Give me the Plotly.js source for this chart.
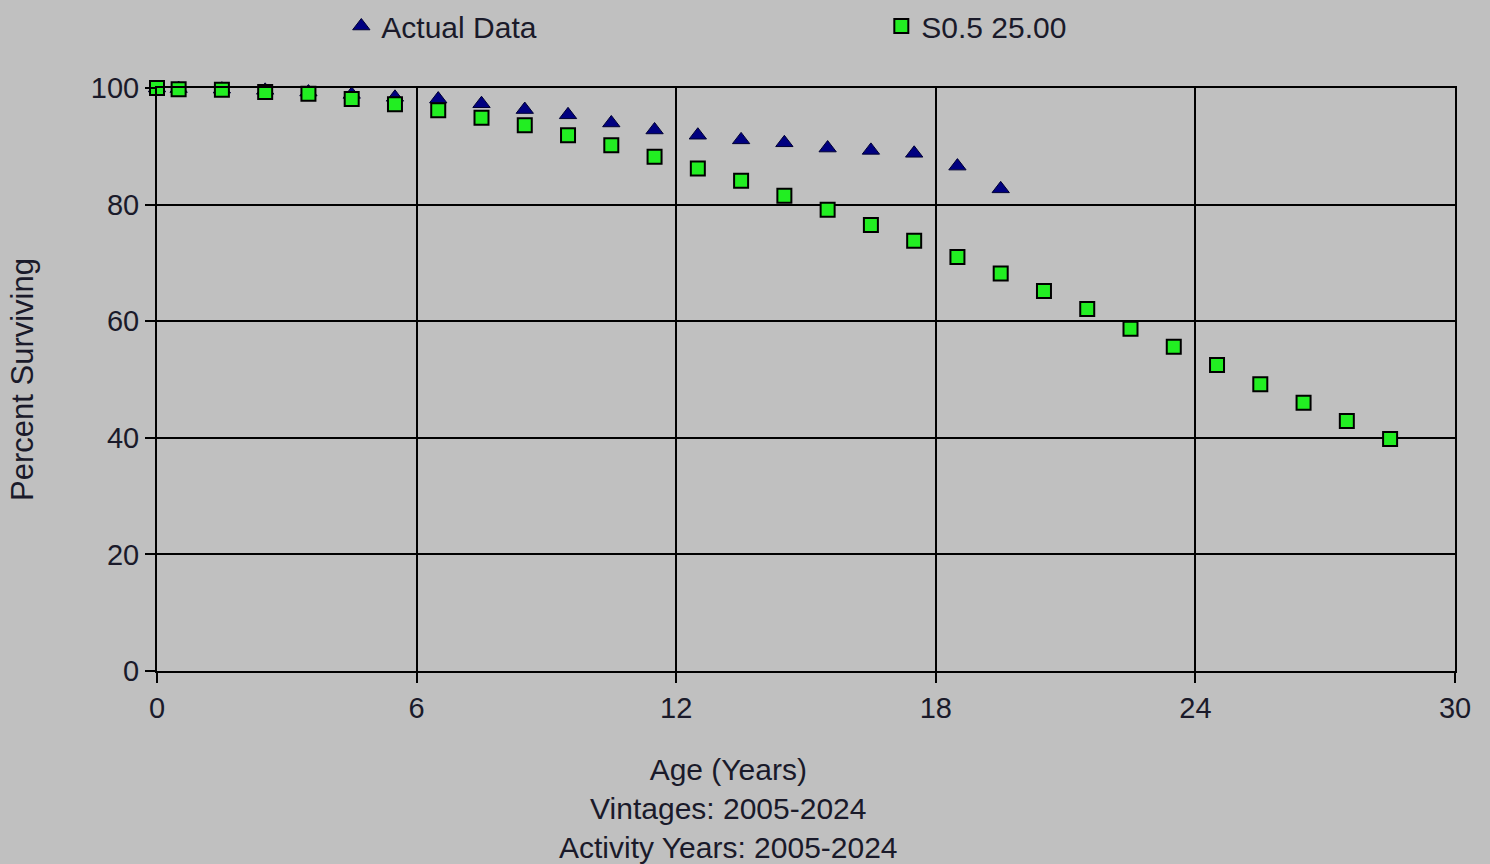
<!DOCTYPE html>
<html>
<head>
<meta charset="utf-8">
<script src="https://cdn.plot.ly/plotly-3.0.1.min.js"></script>
<style>
  html, body { margin: 0; padding: 0; background: #c0c0c0; }
  #chart { width: 1490px; height: 864px; }
</style>
</head>
<body>
<div id="chart"></div>
<script>
// Data
const actualAges = [0, 0.5, 1.5, 2.5, 3.5, 4.5, 5.5, 6.5, 7.5, 8.5, 9.5, 10.5, 11.5, 12.5, 13.5, 14.5, 15.5, 16.5, 17.5, 18.5, 19.5];
const actualValues = [100, 99.9, 99.8, 99.6, 99.3, 98.9, 98.4, 98.1, 97.3, 96.3, 95.4, 94.0, 92.8, 91.9, 91.1, 90.6, 89.7, 89.3, 88.8, 86.6, 82.7];

const curveAges = [0, 0.5, 1.5, 2.5, 3.5, 4.5, 5.5, 6.5, 7.5, 8.5, 9.5, 10.5, 11.5, 12.5, 13.5, 14.5, 15.5, 16.5, 17.5, 18.5, 19.5, 20.5, 21.5, 22.5, 23.5, 24.5, 25.5, 26.5, 27.5, 28.5];
const curveValues = [100, 99.8, 99.7, 99.3, 99.0, 98.1, 97.2, 96.2, 94.9, 93.6, 91.9, 90.2, 88.2, 86.2, 84.1, 81.5, 79.1, 76.5, 73.8, 71.0, 68.2, 65.2, 62.1, 58.7, 55.6, 52.5, 49.2, 46.0, 42.9, 39.8];

const seriesNames = ["Actual Data", "S0.5 25.00"];
const xTickVals = [0, 6, 12, 18, 24, 30];
const yTickVals = [0, 20, 40, 60, 80, 100];
const xTitleLines = ["Age (Years)", "Vintages: 2005-2024", "Activity Years: 2005-2024"];
const yTitle = "Percent Surviving";

const fontFamily = "Liberation Sans, Arial, sans-serif";
const textColor = "#1a1a2a";

const traces = [
  {
    x: actualAges, y: actualValues, name: seriesNames[0],
    type: "scatter", mode: "markers",
    marker: { symbol: "triangle-up", size: 15, color: "#000080", line: { color: "#000033", width: 1 } },
    cliponaxis: false
  },
  {
    x: curveAges, y: curveValues, name: seriesNames[1],
    type: "scatter", mode: "markers",
    marker: { symbol: "square", size: 14, color: "#22ee22", line: { color: "#000000", width: 2 } },
    cliponaxis: false
  }
];

const layout = {
  width: 1490, height: 864,
  paper_bgcolor: "#c0c0c0",
  plot_bgcolor: "#c0c0c0",
  margin: { l: 157, r: 35, t: 88, b: 193 },
  font: { family: fontFamily, size: 29, color: textColor },
  showlegend: true,
  legend: {
    orientation: "h",
    x: 0.142, xanchor: "left",
    y: 1.0, yref: "container", yanchor: "top",
    bgcolor: "rgba(0,0,0,0)",
    font: { family: fontFamily, size: 30, color: textColor },
    entrywidth: 495, entrywidthmode: "pixels",
    itemwidth: 30,
    tracegroupgap: 0
  },
  xaxis: {
    range: [0, 30],
    tickvals: xTickVals,
    ticktext: xTickVals.map(String),
    ticks: "outside", ticklen: 10, tickwidth: 2, tickcolor: "#000",
    showgrid: true, gridcolor: "#000", gridwidth: 2,
    showline: true, linecolor: "#000", linewidth: 2, mirror: true,
    zeroline: false,
    tickfont: { family: fontFamily, size: 29, color: textColor },
    fixedrange: true
  },
  yaxis: {
    range: [0, 100],
    tickvals: yTickVals,
    ticktext: yTickVals.map(String),
    ticks: "outside", ticklen: 10, tickwidth: 2, tickcolor: "#000",
    showgrid: true, gridcolor: "#000", gridwidth: 2,
    showline: true, linecolor: "#000", linewidth: 2, mirror: true,
    zeroline: false,
    tickfont: { family: fontFamily, size: 29, color: textColor },
    title: { text: yTitle, font: { family: fontFamily, size: 31, color: textColor }, standoff: 48 },
    fixedrange: true
  },
  annotations: [
    {
      text: xTitleLines.join("<br>"),
      xref: "paper", yref: "paper",
      x: 0.44, xanchor: "center",
      y: -0.137, yanchor: "top",
      showarrow: false,
      align: "center",
      font: { family: fontFamily, size: 30, color: textColor }
    }
  ]
};

Plotly.newPlot("chart", traces, layout, { displayModeBar: false, staticPlot: true });
</script>
</body>
</html>
